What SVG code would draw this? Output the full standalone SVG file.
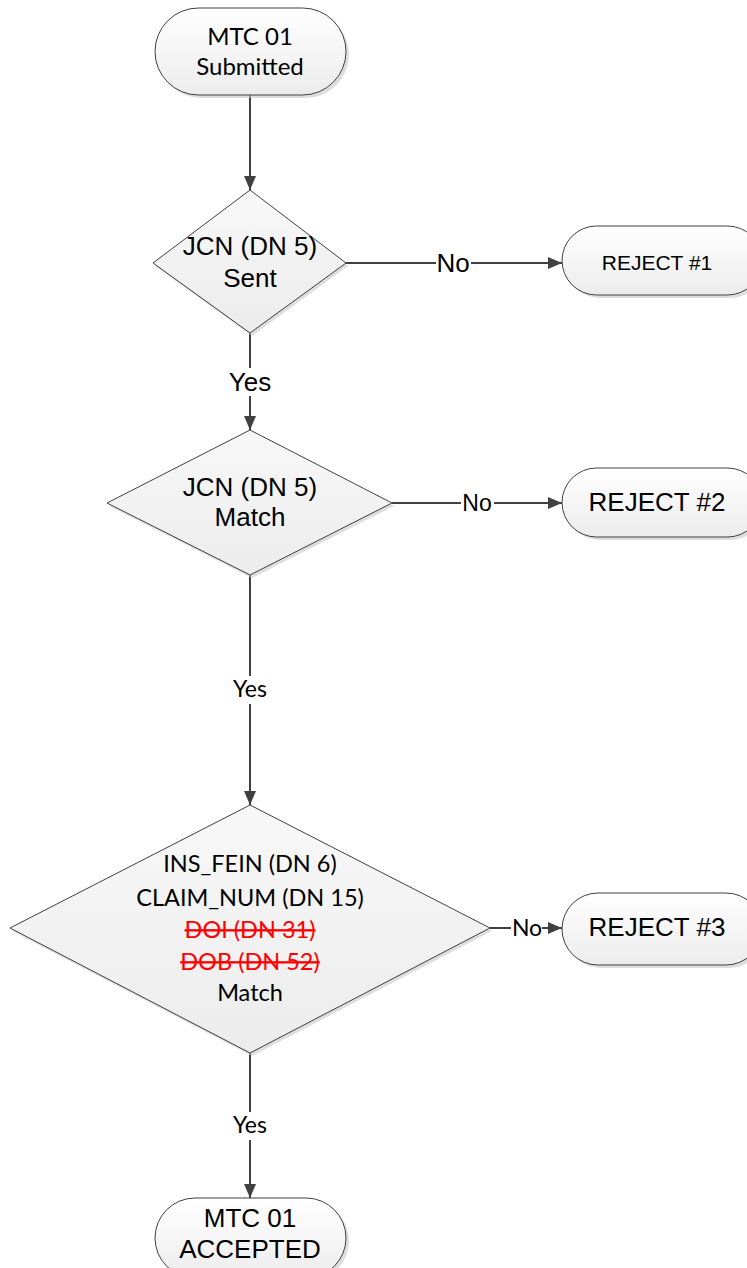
<svg xmlns="http://www.w3.org/2000/svg" width="747" height="1268" viewBox="0 0 747 1268">
<style>
.term{fill:url(#g);stroke:#404040;stroke-width:1}
.dia{fill:url(#g2);stroke:#404040;stroke-width:1}
.sh{fill:#c8c8c8;opacity:0.6}
.ln{stroke:#404040;stroke-width:2;fill:none}
.a{font-family:"Liberation Sans",Arial,sans-serif;fill:#000;text-anchor:middle}
.c{font-family:"Lato","Open Sans",sans-serif;fill:#000;text-anchor:middle}
.red{fill:#ff0000}
.lbl{fill:#fff}
</style>
<defs>
<linearGradient id="g" x1="0" y1="0" x2="0" y2="1"><stop offset="0" stop-color="#ffffff"/><stop offset="1" stop-color="#ececec"/></linearGradient>
<linearGradient id="g2" x1="0" y1="0" x2="0" y2="1"><stop offset="0" stop-color="#f8f8f8"/><stop offset="1" stop-color="#ececec"/></linearGradient>
<marker id="ar" viewBox="0 0 14 12" refX="14" refY="6" markerWidth="14" markerHeight="12" markerUnits="userSpaceOnUse" orient="auto"><path d="M0,0 L14,6 L0,12 Z" fill="#404040"/></marker>
</defs>
<g id="connectors">
<line class="ln" x1="250" y1="95" x2="250" y2="190" marker-end="url(#ar)"/>
<line class="ln" x1="346" y1="263" x2="562" y2="263" marker-end="url(#ar)"/>
<rect class="lbl" x="436" y="250" width="35" height="26"/>
<text class="a" x="453" y="272" font-size="26">No</text>
<line class="ln" x1="250" y1="333" x2="250" y2="430" marker-end="url(#ar)"/>
<rect class="lbl" x="226" y="368" width="48" height="28"/>
<text class="a" x="250" y="391" font-size="26">Yes</text>
<line class="ln" x1="392" y1="503" x2="562" y2="503" marker-end="url(#ar)"/>
<rect class="lbl" x="461" y="491" width="33" height="24"/>
<text class="a" x="477" y="511" font-size="23">No</text>
<line class="ln" x1="250" y1="575" x2="250" y2="805" marker-end="url(#ar)"/>
<rect class="lbl" x="228" y="676" width="44" height="28"/>
<text class="c" x="250" y="697" font-size="23">Yes</text>
<line class="ln" x1="490" y1="928" x2="562" y2="928" marker-end="url(#ar)"/>
<rect class="lbl" x="511" y="916" width="31" height="24"/>
<text class="c" x="527" y="936" font-size="23">No</text>
<line class="ln" x1="250" y1="1053" x2="250" y2="1198" marker-end="url(#ar)"/>
<rect class="lbl" x="228" y="1112" width="44" height="28"/>
<text class="c" x="250" y="1133" font-size="23">Yes</text>
</g>
<g id="start">
<rect class="sh" x="158" y="11" width="191" height="87" rx="43.5"/>
<rect class="term" x="155" y="8" width="191" height="87" rx="43.5"/>
<text class="c" x="250" y="45" font-size="24">MTC 01</text>
<text class="c" x="250" y="75" font-size="24">Submitted</text>
</g>
<g id="d1">
<polygon class="sh" points="252,193 348,266 252,336 155,266"/>
<polygon class="dia" points="250,190 346,263 250,333 153,263"/>
<text class="a" x="250" y="255" font-size="26">JCN (DN 5)</text>
<text class="a" x="250" y="287" font-size="26">Sent</text>
</g>
<g id="r1">
<rect class="sh" x="565" y="229" width="200" height="69" rx="34.5"/>
<rect class="term" x="562" y="226" width="200" height="69" rx="34.5"/>
<text class="a" x="657" y="270" font-size="21">REJECT #1</text>
</g>
<g id="d2">
<polygon class="sh" points="252,433 394,506 252,578 109,506"/>
<polygon class="dia" points="250,430 392,503 250,575 107,503"/>
<text class="a" x="250" y="496" font-size="26">JCN (DN 5)</text>
<text class="a" x="250" y="526" font-size="26">Match</text>
</g>
<g id="r2">
<rect class="sh" x="565" y="471" width="200" height="69" rx="34.5"/>
<rect class="term" x="562" y="468" width="200" height="69" rx="34.5"/>
<text class="a" x="657" y="511" font-size="26">REJECT #2</text>
</g>
<g id="d3">
<polygon class="sh" points="252,808 492,931 252,1056 12,931"/>
<polygon class="dia" points="250,805 490,928 250,1053 10,928"/>
<text class="c" x="250" y="872" font-size="23.5">INS_FEIN (DN 6)</text>
<text class="c" x="250" y="906" font-size="23.5">CLAIM_NUM (DN 15)</text>
<text class="c red" x="250" y="938" font-size="23.5" text-decoration="line-through">DOI (DN 31)</text>
<text class="c red" x="250" y="970" font-size="23.5" text-decoration="line-through">DOB (DN 52)</text>
<text class="c" x="250" y="1001" font-size="23.5">Match</text>
</g>
<g id="r3">
<rect class="sh" x="565" y="896" width="200" height="72" rx="36"/>
<rect class="term" x="562" y="893" width="200" height="72" rx="36"/>
<text class="a" x="657" y="936" font-size="26">REJECT #3</text>
</g>
<g id="end">
<rect class="sh" x="158" y="1201" width="191" height="80" rx="40"/>
<rect class="term" x="155" y="1198" width="191" height="80" rx="40"/>
<text class="a" x="250" y="1227" font-size="26">MTC 01</text>
<text class="a" x="250" y="1258" font-size="26">ACCEPTED</text>
</g>
</svg>
